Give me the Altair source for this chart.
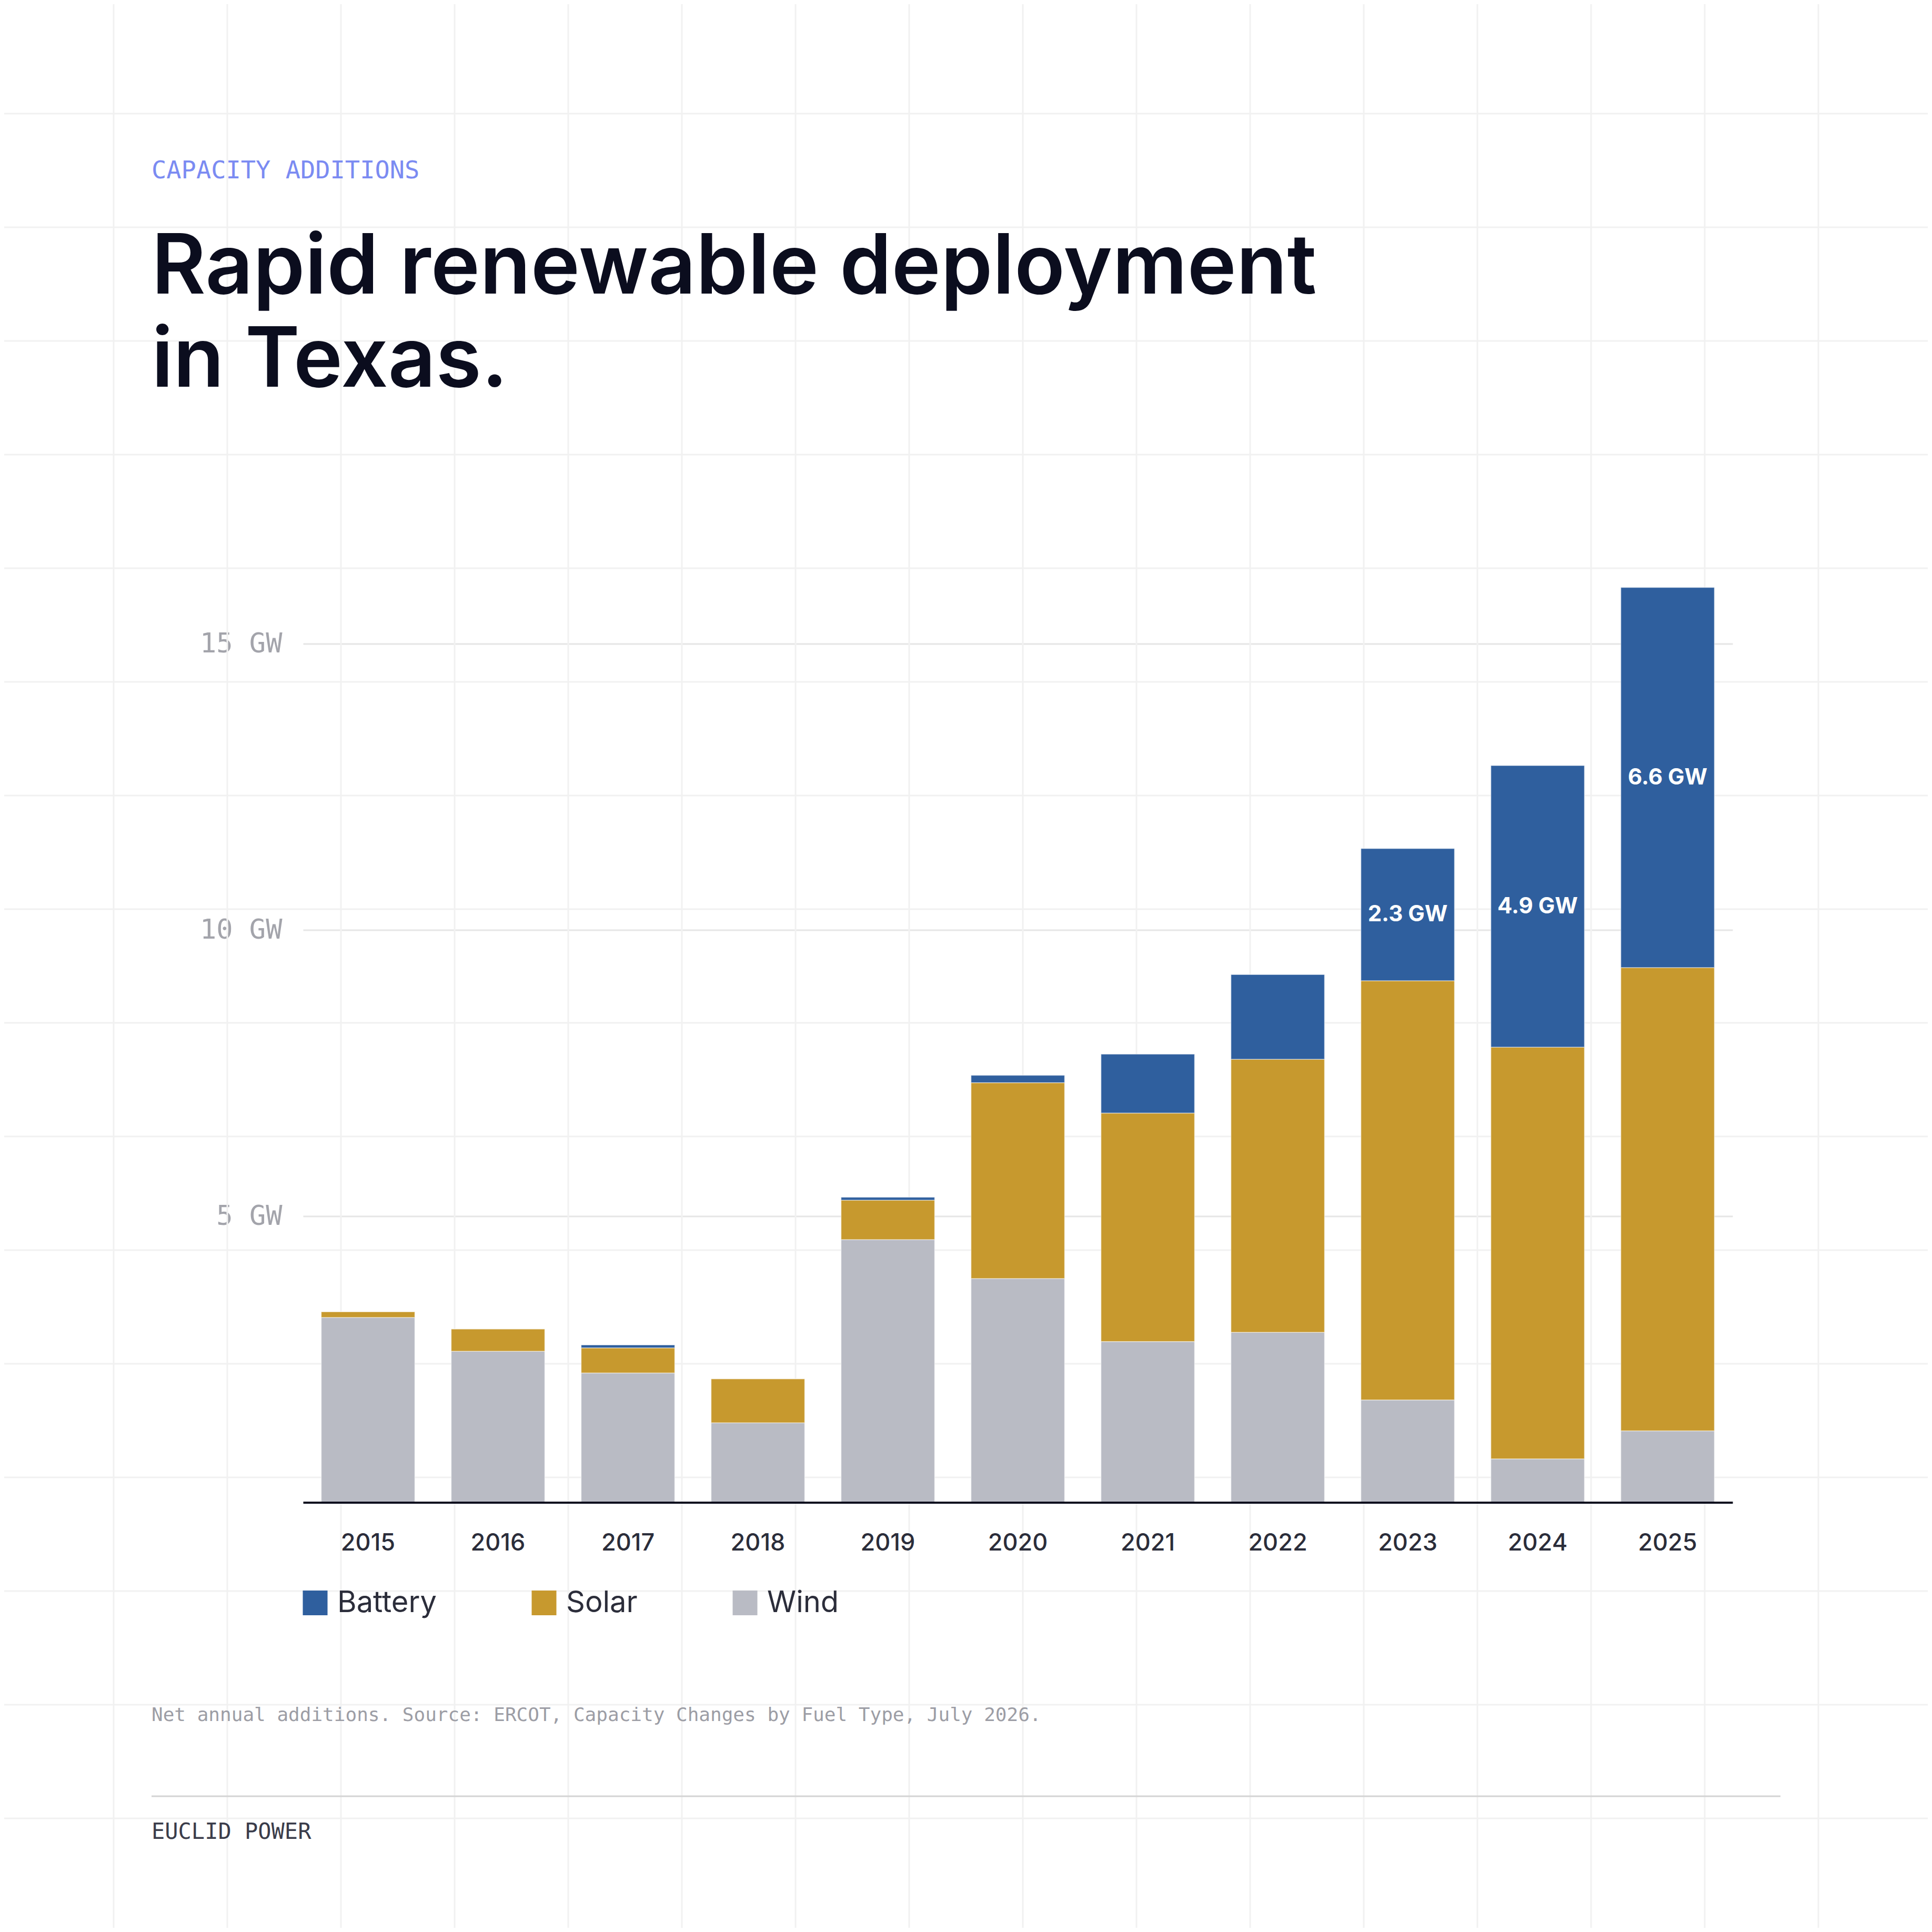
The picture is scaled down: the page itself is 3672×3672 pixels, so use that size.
"""Texas capacity additions: stacked bars by fuel type in a poster layout.

Page geometry is measured in page pixels (3672 square) and converted to
plot-relative offsets for the decorative layers (grid, texts, rule).
"""

import altair as alt
import pandas as pd

YEARS = ["2015", "2016", "2017", "2018", "2019", "2020", "2021", "2022", "2023", "2024", "2025"]
WIND_GW = [3.23, 2.64, 2.26, 1.39, 4.59, 3.91, 2.81, 2.97, 1.79, 0.76, 1.25]
SOLAR_GW = [0.10, 0.39, 0.44, 0.77, 0.69, 3.42, 3.99, 4.77, 7.32, 7.19, 8.09]
BATTERY_GW = [0.0, 0.0, 0.05, 0.0, 0.05, 0.13, 1.03, 1.48, 2.31, 4.92, 6.64]
CALLOUT_YEARS = ["2023", "2024", "2025"]

FUELS = ["Battery", "Solar", "Wind"]
FUEL_COLORS = ["#2F5F9E", "#C7992E", "#B9BBC4"]
Y_TICKS = [5, 10, 15]

KICKER = "CAPACITY ADDITIONS"
TITLE = ["Rapid renewable deployment", "in Texas."]
NOTE = "Net annual additions. Source: ERCOT, Capacity Changes by Fuel Type, July 2026."
BRAND = "EUCLID POWER"

# Page layout (px)
PAGE, MARGIN = 3672, 8
PLOT_LEFT, PLOT_TOP = 576, 1005.5
PLOT_W, PLOT_H = 2717, 1850
GRID_STEP = PAGE / 17
TEXT_LEFT = 288

INK = "#0B0D1E"
BODY = "#2B2D3A"
MUTED = "#9C9DA5"
MONO = "DejaVu Sans Mono"
SANS = "Inter"

ONE = pd.DataFrame({"k": [0]})


def px(x):
    return x - PLOT_LEFT


def py(y):
    return y - PLOT_TOP


def stacked_frame() -> pd.DataFrame:
    rows = []
    for order, (fuel, values) in enumerate((("Wind", WIND_GW), ("Solar", SOLAR_GW), ("Battery", BATTERY_GW))):
        for year, gw in zip(YEARS, values):
            rows.append({"year": year, "fuel": fuel, "gw": gw, "stack_order": order})
    return pd.DataFrame(rows)


def callout_frame() -> pd.DataFrame:
    rows = []
    for year in CALLOUT_YEARS:
        i = YEARS.index(year)
        rows.append({
            "year": year,
            "mid": WIND_GW[i] + SOLAR_GW[i] + BATTERY_GW[i] / 2,
            "label": f"{BATTERY_GW[i]:.1f} GW",
        })
    return pd.DataFrame(rows)


def background_grid() -> list:
    """Light page grid behind everything."""
    ticks = [GRID_STEP * k for k in range(18)]
    vertical = (
        alt.Chart(pd.DataFrame({"gx": [px(t) for t in ticks]}))
        .mark_rule(color="#F1F1F1", strokeWidth=3)
        .encode(x=alt.X("gx:Q", scale=None), y=alt.value(py(0)), y2=alt.value(py(PAGE)))
    )
    horizontal = (
        alt.Chart(pd.DataFrame({"gy": [py(t) for t in ticks]}))
        .mark_rule(color="#F1F1F1", strokeWidth=3)
        .encode(y=alt.Y("gy:Q", scale=None), x=alt.value(px(0)), x2=alt.value(px(PAGE)))
    )
    return [vertical, horizontal]


def bars() -> alt.Chart:
    x = alt.X(
        "year:N",
        sort=YEARS,
        title=None,
        scale=alt.Scale(paddingInner=0.28, paddingOuter=0.14),
        axis=alt.Axis(
            labelAngle=0, ticks=False, grid=False, domainColor=INK, domainWidth=4,
            labelPadding=55, labelFont=SANS, labelFontSize=45, labelFontWeight=500,
            labelColor=BODY, zindex=1,
        ),
    )
    y = alt.Y(
        "gw:Q",
        stack="zero",
        title=None,
        scale=alt.Scale(domain=[0, 17], nice=False),
        axis=alt.Axis(
            values=Y_TICKS, labelExpr="datum.value + ' GW'", domain=False, ticks=False,
            gridColor="#E6E6E6", gridWidth=3, labelPadding=40, labelFont=MONO,
            labelFontSize=52, labelColor="#A3A4AB",
        ),
    )
    color = alt.Color(
        "fuel:N",
        scale=alt.Scale(domain=FUELS, range=FUEL_COLORS),
        legend=alt.Legend(
            orient="none", legendX=-5, legendY=2013, direction="horizontal", title=None,
            symbolType="square", symbolSize=2209, symbolStrokeWidth=0, labelFont=SANS,
            labelFontSize=56, labelColor=BODY, labelOffset=14, columnPadding=176,
            padding=0, labelLimit=0,
        ),
    )
    return (
        alt.Chart(stacked_frame())
        .mark_bar(stroke="white", strokeWidth=1.5, strokeOpacity=0.5)
        .encode(x=x, y=y, color=color, order=alt.Order("stack_order:Q", sort="ascending"))
    )


def callouts() -> alt.Chart:
    return (
        alt.Chart(callout_frame())
        .mark_text(font=SANS, fontSize=42, fontWeight=700, color="white", baseline="middle")
        .encode(x=alt.X("year:N", sort=YEARS), y="mid:Q", text="label:N")
    )


def page_text(text, y, baseline="middle", **style) -> alt.Chart:
    return (
        alt.Chart(ONE)
        .mark_text(align="left", baseline=baseline, **style)
        .encode(x=alt.value(px(TEXT_LEFT)), y=alt.value(py(y)), text=alt.value(text))
    )


kicker = page_text(KICKER, 325, font=MONO, fontSize=47, color="#7B8BF2")
title = page_text(TITLE, 558, baseline="alphabetic", font=SANS, fontSize=158,
                  fontWeight=600, color=INK, lineHeight=177)
note = page_text(NOTE, 3260, font=MONO, fontSize=36, color=MUTED)
brand = page_text(BRAND, 3482, font=MONO, fontSize=42, color="#3A3C4A")
separator = (
    alt.Chart(ONE)
    .mark_rule(color="#D4D4D4", strokeWidth=3)
    .encode(x=alt.value(px(TEXT_LEFT)), x2=alt.value(px(3384)), y=alt.value(py(3414)))
)

total = PAGE - 2 * MARGIN
chart = (
    alt.layer(*background_grid(), bars(), callouts(), kicker, title, note, separator, brand)
    .properties(
        width=PLOT_W,
        height=PLOT_H,
        background="white",
        autosize=alt.AutoSizeParams(type="none"),
        padding={
            "left": PLOT_LEFT - MARGIN,
            "top": PLOT_TOP - MARGIN,
            "right": total - (PLOT_LEFT - MARGIN) - PLOT_W,
            "bottom": total - (PLOT_TOP - MARGIN) - PLOT_H,
        },
    )
    .configure_view(stroke=None)
)

chart.save("out.html", embed_options={"renderer": "svg", "actions": False})
